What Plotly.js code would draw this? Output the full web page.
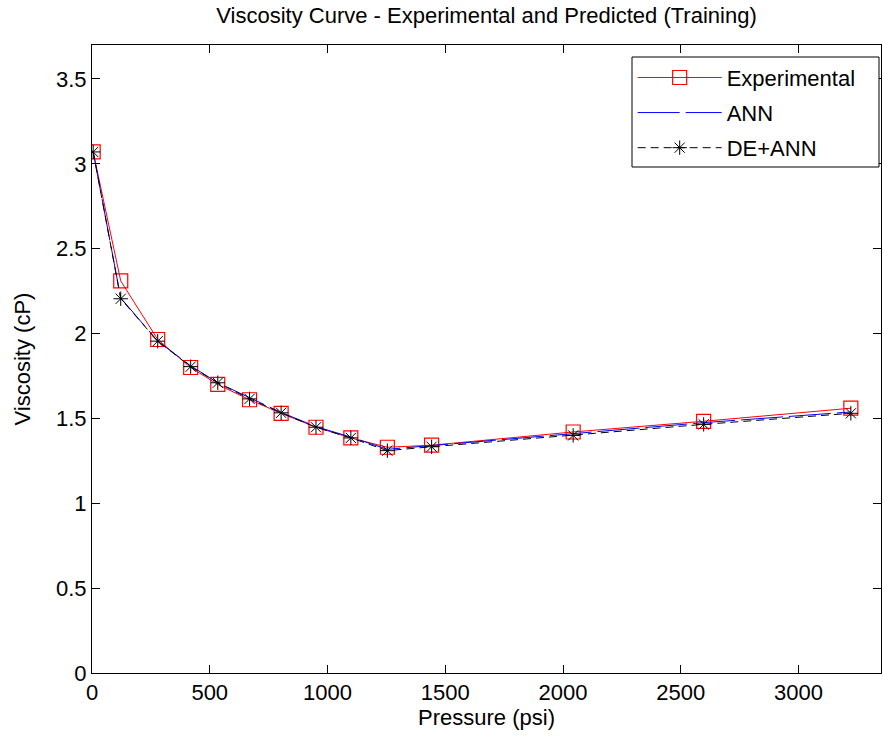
<!DOCTYPE html>
<html>
<head>
<meta charset="utf-8">
<script src="https://cdn.plot.ly/plotly-3.0.1.min.js"></script>
<style>html,body{margin:0;padding:0;background:#fff;}#chart{width:883px;height:740px;}</style>
</head>
<body>
<div id="chart"></div>
<script>
// Data
const pressure = [5, 122, 279, 419, 534, 669, 803, 951, 1099, 1254, 1442, 2043, 2597, 3222];
const experimental = [3.07, 2.31, 1.965, 1.80, 1.70, 1.61, 1.53, 1.448, 1.385, 1.33, 1.342, 1.42, 1.483, 1.56];
const ann = [3.07, 2.21, 1.955, 1.81, 1.71, 1.62, 1.535, 1.452, 1.39, 1.318, 1.34, 1.41, 1.475, 1.538];
const deAnn = [3.07, 2.205, 1.955, 1.805, 1.71, 1.615, 1.533, 1.448, 1.385, 1.31, 1.333, 1.40, 1.465, 1.53];
const xTicks = [0, 500, 1000, 1500, 2000, 2500, 3000];
const yTicks = [0, 0.5, 1, 1.5, 2, 2.5, 3, 3.5];

const FONT = '"Liberation Sans", Arial, Helvetica, sans-serif';

const traces = [
  {
    x: pressure, y: experimental, name: 'Experimental', type: 'scatter', mode: 'lines+markers',
    line: {color: '#ff0000', width: 1},
    marker: {symbol: 'square-open', size: 14, color: '#ff0000', line: {width: 1.2, color: '#ff0000'}},
    legendgroup: 'a'
  },
  {
    x: pressure, y: ann, name: 'ANN', type: 'scatter', mode: 'lines',
    line: {color: '#0000ff', width: 1, dash: '42px,6px'},
    legendgroup: 'b'
  },
  {
    x: pressure, y: deAnn, name: 'DE+ANN', type: 'scatter', mode: 'lines+markers',
    line: {color: '#000000', width: 1, dash: '8px,5px'},
    marker: {symbol: 'asterisk-open', size: 12, color: '#000000', line: {width: 1, color: '#000000'}},
    legendgroup: 'c'
  }
];

const axisCommon = {
  showgrid: false, zeroline: false, showline: true, linecolor: '#000', linewidth: 1,
  mirror: 'ticks', ticks: 'inside', ticklen: 8, tickwidth: 1, tickcolor: '#000',
  tickfont: {family: FONT, size: 22, color: '#000'}
};

const layout = {
  width: 883, height: 740,
  margin: {l: 92, r: 2, t: 45, b: 67, pad: 0},
  paper_bgcolor: '#fff', plot_bgcolor: '#fff',
  font: {family: FONT, size: 22, color: '#000'},
  title: {
    text: 'Viscosity Curve - Experimental and Predicted (Training)',
    font: {family: FONT, size: 22, color: '#000'},
    x: 0.5, xref: 'paper', y: 0.99, yref: 'container', yanchor: 'top'
  },
  xaxis: Object.assign({}, axisCommon, {
    range: [0, 3350], tickmode: 'array', tickvals: xTicks, ticktext: xTicks.map(String),
    title: {text: 'Pressure (psi)', font: {family: FONT, size: 22, color: '#000'}, standoff: 4}
  }),
  yaxis: Object.assign({}, axisCommon, {
    range: [0, 3.7], tickmode: 'array', tickvals: yTicks, ticktext: yTicks.map(String),
    title: {text: 'Viscosity (cP)', font: {family: FONT, size: 22, color: '#000'}, standoff: 19}
  }),
  showlegend: true,
  legend: {
    x: 0.684, xanchor: 'left', y: 0.983, yanchor: 'top',
    bgcolor: 'rgba(0,0,0,0)', bordercolor: 'rgba(0,0,0,0)', borderwidth: 1,
    font: {family: FONT, size: 22, color: '#000'},
    itemwidth: 84, tracegroupgap: 3.5, traceorder: 'grouped'
  },
  shapes: [{
    type: 'rect', xref: 'paper', yref: 'paper',
    x0: (632 - 92) / 789, x1: (879 - 92) / 789,
    y0: (673 - 167) / 628, y1: (673 - 57) / 628,
    line: {color: '#000', width: 1}, fillcolor: '#fff', layer: 'above'
  }]
};

Plotly.newPlot('chart', traces, layout, {displayModeBar: false, staticPlot: true});
</script>
</body>
</html>
